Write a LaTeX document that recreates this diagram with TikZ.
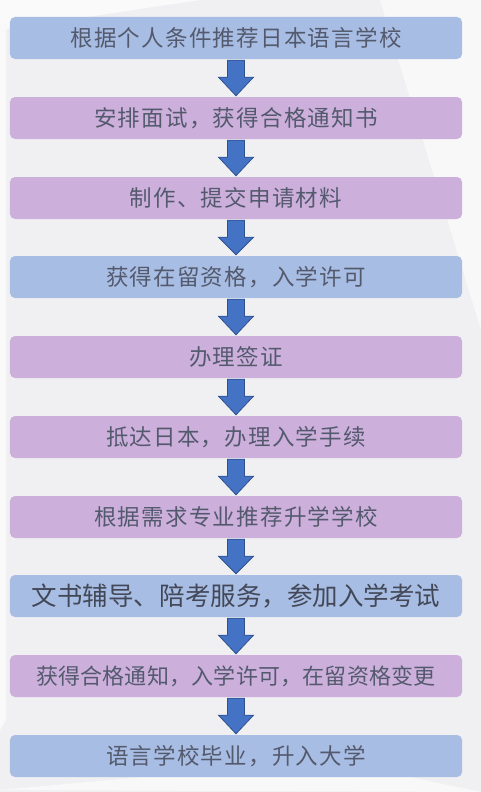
\documentclass[tikz,border=0pt]{standalone}
\usepackage{fontspec}
\newfontfamily\cjk{Noto Sans CJK SC}
\usetikzlibrary{calc}

\definecolor{boxblue}{RGB}{168,189,227}
\definecolor{boxpurple}{RGB}{205,175,220}
\definecolor{arrowfill}{RGB}{68,114,196}
\definecolor{arrowline}{RGB}{47,82,143}
\definecolor{steptext}{RGB}{84,90,110}
\definecolor{bggray}{RGB}{240,240,243}

\tikzset{
	stepbox/.style={rounded corners=5bp, minimum width=452bp, minimum height=42bp,
		inner sep=0pt, text=steptext, font=\cjk\fontsize{22.5bp}{22.5bp}\selectfont\addfontfeatures{LetterSpace=5.5}},
	bluebox/.style={stepbox, fill=boxblue},
	purplebox/.style={stepbox, fill=boxpurple},
	downarrow/.style={fill=arrowfill, draw=arrowline, line width=0.8bp, line join=miter}
}

\begin{document}
\begin{tikzpicture}[x=1bp, y=-1bp]
				% Background with faint lighter patches
				\fill[bggray] (0,0) rectangle (481,792);
				\fill[white!70!bggray] (0,0) -- (200,0) -- (0,30) -- cycle;
				\fill[white!60!bggray] (0,0) -- (6,0) -- (6,720) -- (0,730) -- cycle;
				\fill[white!50!bggray] (380,0) -- (481,0) -- (481,330) -- cycle;
				\fill[white!50!bggray] (0,790) -- (330,760) -- (481,792) -- cycle;
				
				% The steps
				\node[bluebox]   (recommend) at (236,38)  {根据个人条件推荐日本语言学校};
				\node[purplebox] (interview) at (236,118) {安排面试，获得合格通知书};
				\node[purplebox] (apply)     at (236,198) {制作、提交申请材料};
				\node[bluebox]   (permit)    at (236,277) {获得在留资格，入学许可};
				\node[purplebox] (visa)      at (236,357) {办理签证};
				\node[purplebox] (arrive)    at (236,437) {抵达日本，办理入学手续};
				\node[purplebox] (advance)   at (236,517) {根据需求专业推荐升学学校};
				\node[bluebox, font=\cjk\fontsize{25.5bp}{25.5bp}\selectfont, text=steptext!80!black]
				                 (exam)      at (236,596) {文书辅导、陪考服务，参加入学考试};
				\node[purplebox, font=\cjk\fontsize{22bp}{22bp}\selectfont\addfontfeatures{LetterSpace=1}]
				                 (change)    at (236,676) {获得合格通知，入学许可，在留资格变更};
				\node[bluebox]   (graduate)  at (236,756) {语言学校毕业，升入大学};
				
				% Block arrows between the steps
				\foreach \a/\b in {recommend/interview, interview/apply, apply/permit, permit/visa,
					visa/arrive, arrive/advance, advance/exam, exam/change, change/graduate}
				\draw[downarrow] ($(\a.south)+(-8.5,1)$) -- ($(\a.south)+(8.5,1)$) -- ($(\a.south)+(8.5,18)$)
					-- ($(\a.south)+(17.5,18)$) -- ($(\b.north)+(0,-1)$) -- ($(\a.south)+(-17.5,18)$)
					-- ($(\a.south)+(-8.5,18)$) -- cycle;
			\end{tikzpicture}
\end{document}
